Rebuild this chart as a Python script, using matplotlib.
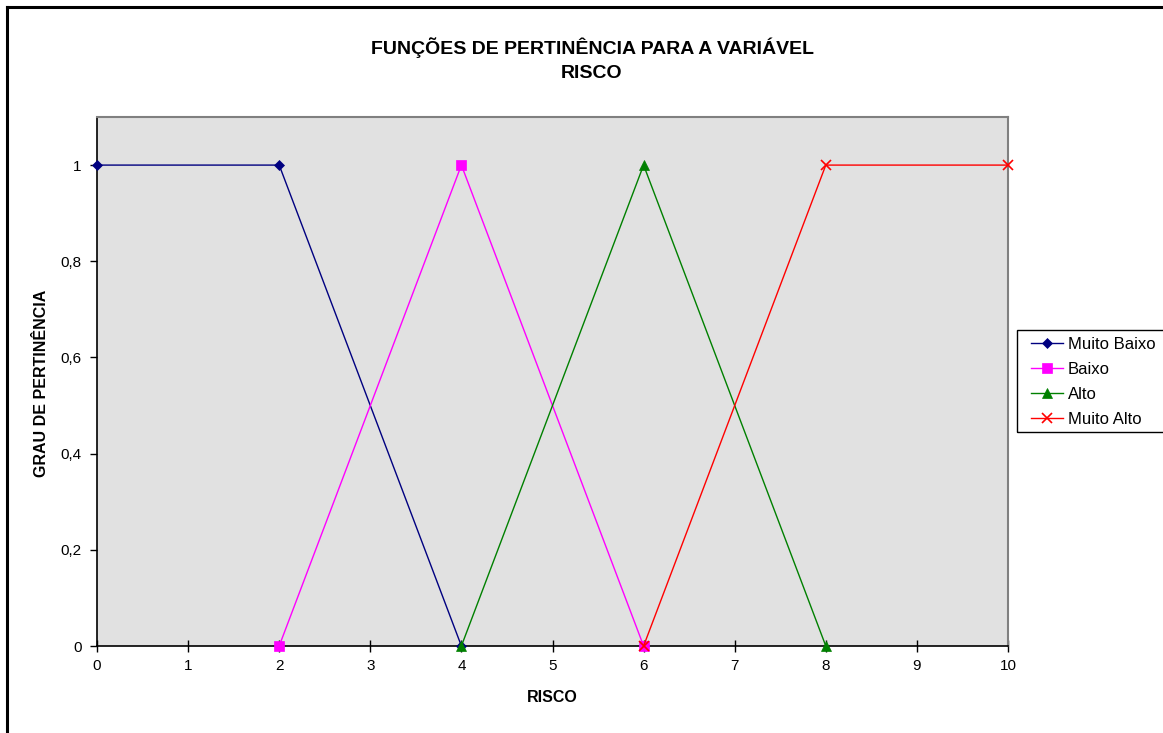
import matplotlib
matplotlib.use("Agg")
import matplotlib.pyplot as plt
from matplotlib.lines import Line2D
from matplotlib.patches import Rectangle

plt.rcParams['font.family'] = ['Liberation Sans', 'DejaVu Sans']

title = "FUNÇÕES DE PERTINÊNCIA PARA A VARIÁVEL\nRISCO"
xlabel = "RISCO"
ylabel = "GRAU DE PERTINÊNCIA"

mb_x = [0, 2, 4]
mb_y = [1, 1, 0]
b_x = [2, 4, 6]
b_y = [0, 1, 0]
a_x = [4, 6, 8]
a_y = [0, 1, 0]
ma_x = [6, 8, 10]
ma_y = [0, 1, 1]

series = [
    ("Muito Baixo", mb_x, mb_y, "#000080", "D", 5.5),
    ("Baixo", b_x, b_y, "#FF00FF", "s", 6.5),
    ("Alto", a_x, a_y, "#008000", "^", 6.5),
    ("Muito Alto", ma_x, ma_y, "#FF0000", "x", 6.5),
]

xticks = list(range(0, 11))
yticks = [0, 0.2, 0.4, 0.6, 0.8, 1.0]
ytick_labels = ["0", "0,2", "0,4", "0,6", "0,8", "1"]

W, H = 1163, 733
fig = plt.figure(figsize=(W / 100, H / 100), dpi=100)
ax = fig.add_axes([97 / W, (H - 646) / H, (1008 - 97) / W, (646 - 117) / H])
ax.set_facecolor("#E1E1E1")

for name, xs, ys, c, m, ms in series:
    ax.plot(xs, ys, color=c, marker=m, markersize=ms, linewidth=1.0,
            markeredgewidth=1.2 if m == "x" else 0.5, clip_on=False, label=name, zorder=3)

ax.set_xlim(0, 10)
ax.set_ylim(0, 1.1)
ax.set_xticks(xticks)
ax.set_xticklabels([str(v) for v in xticks], fontsize=11)
ax.set_yticks(yticks)
ax.set_yticklabels(ytick_labels, fontsize=11)
ax.tick_params(axis="x", direction="inout", length=9, width=1, pad=5, colors="black")
ax.tick_params(axis="y", direction="out", length=5, width=1, pad=6, colors="black")

for s in ["top", "right"]:
    ax.spines[s].set_color("#808080")
    ax.spines[s].set_linewidth(1.5)
for s in ["left", "bottom"]:
    ax.spines[s].set_color("black")
    ax.spines[s].set_linewidth(1.2)

fig.text(592 / W, 1 - 60 / H, title, ha="center", va="center", fontsize=14,
         fontweight="bold", linespacing=1.55)
fig.text(552 / W, 1 - 698 / H, xlabel, ha="center", va="center", fontsize=11.5, fontweight="bold")
fig.text(42 / W, 1 - 383 / H, ylabel, ha="center", va="center", fontsize=11.5,
         fontweight="bold", rotation=90)

handles, labels = ax.get_legend_handles_labels()
leg = fig.legend(handles, labels, loc="upper left",
                 bbox_to_anchor=(1031 / W, 1 - 337 / H), fontsize=12,
                 frameon=False, borderpad=0.0,
                 handlelength=1.9, handletextpad=0.3, labelspacing=0.6,
                 borderaxespad=0)

fig.add_artist(Rectangle((1017 / W, 1 - 432 / H), (1175 - 1017) / W, (432 - 330) / H,
                         transform=fig.transFigure, fill=False, edgecolor="black",
                         linewidth=1.0, clip_on=False))

# figure border (left and top)
fig.add_artist(Line2D([7 / W, 7 / W], [0, 1 - 7 / H], color="black", linewidth=2.2,
                      transform=fig.transFigure))
fig.add_artist(Line2D([7 / W, 1], [1 - 7 / H, 1 - 7 / H], color="black", linewidth=2.2,
                      transform=fig.transFigure))

fig.savefig("out.png", dpi=100)
